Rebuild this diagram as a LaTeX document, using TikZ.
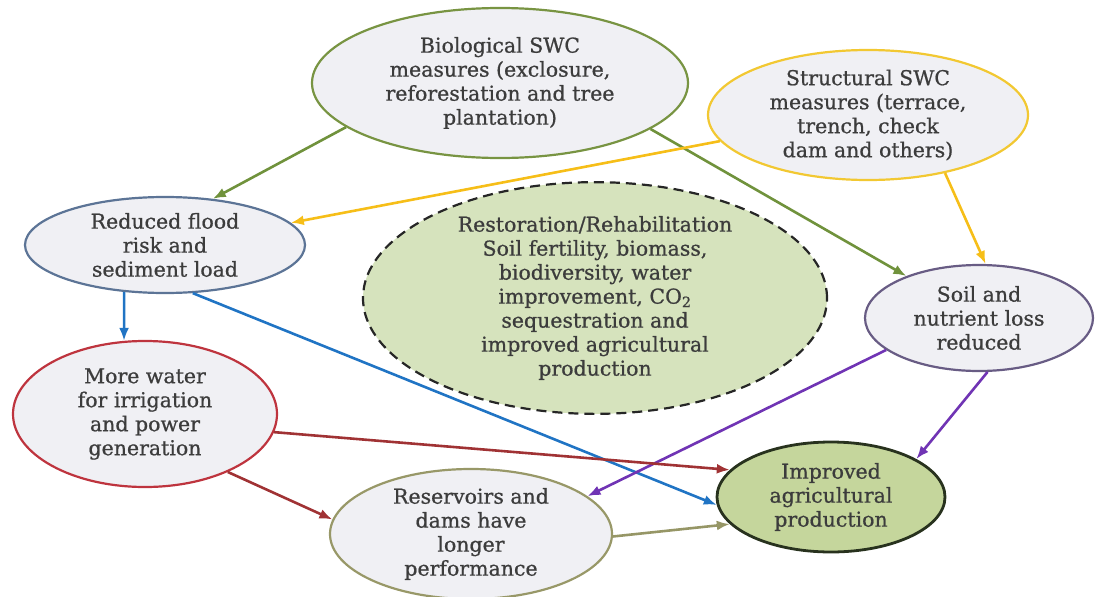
\documentclass[tikz,border=0pt]{standalone}
\usepackage{fontspec}
\setmainfont{DejaVu Serif}
\newfontfamily\bubblefont{DejaVu Serif}[FakeBold=0.8]
\usepackage{xcolor}
\usetikzlibrary{arrows.meta}
\usetikzlibrary{shapes.geometric}
\definecolor{bubblefill}{RGB}{240,240,244}
\definecolor{restfill}{RGB}{214,227,189}
\definecolor{agrifill}{RGB}{197,214,156}
\definecolor{textgray}{RGB}{60,60,60}
\definecolor{biogreen}{RGB}{120,148,66}
\definecolor{structyellow}{RGB}{242,200,50}
\definecolor{floodblue}{RGB}{92,116,150}
\definecolor{soilpurple}{RGB}{104,92,132}
\definecolor{waterred}{RGB}{190,52,62}
\definecolor{reskhaki}{RGB}{152,152,104}
\definecolor{agridark}{RGB}{40,50,30}
\definecolor{bioarrowc}{RGB}{112,146,60}
\definecolor{structarrowc}{RGB}{246,190,24}
\definecolor{floodarrowc}{RGB}{32,116,196}
\definecolor{soilarrowc}{RGB}{112,52,180}
\definecolor{waterarrowc}{RGB}{160,50,52}
\definecolor{resarrowc}{RGB}{150,150,102}
\tikzset{bubble/.style = {ellipse, draw, line width=2.2pt, fill=bubblefill,
                          inner sep=0pt, align=center, text=textgray,
                          font=\bubblefont\fontsize{20.5}{24}\selectfont}}
\tikzset{link/.style = {line width=2.6pt, -{Latex[length=13pt,width=10pt]}}}

\begin{document}
\begin{tikzpicture}[x=1pt, y=-1pt]
		\useasboundingbox (0,0) rectangle (1095,597);
		\node [style=bubble, draw=biogreen, minimum width=376pt, minimum height=150pt] (0) at (500,83) {Biological SWC\\measures (exclosure,\\reforestation and tree\\plantation)};
		\node [style=bubble, draw=structyellow, minimum width=320pt, minimum height=130pt] (1) at (868,115) {Structural SWC\\measures (terrace,\\trench, check\\dam and others)};
		\node [style=bubble, draw=floodblue, minimum width=280pt, minimum height=96pt] (2) at (165,245) {Reduced flood\\risk and\\sediment load};
		\node [style=bubble, draw=black!85, dash pattern=on 10pt off 6pt, fill=restfill, minimum width=464pt, minimum height=230pt] (3) at (595,298) {Restoration/Rehabilitation\\Soil fertility, biomass,\\biodiversity, water\\improvement, CO\textsubscript{2}\\sequestration and\\improved agricultural\\production};
		\node [style=bubble, draw=soilpurple, minimum width=228pt, minimum height=106pt] (4) at (979,318) {Soil and\\nutrient loss\\reduced};
		\node [style=bubble, draw=waterred, minimum width=264pt, minimum height=146pt] (5) at (145,414) {More water\\for irrigation\\and power\\generation};
		\node [style=bubble, draw=reskhaki, minimum width=282pt, minimum height=130pt] (6) at (471,534) {Reservoirs and\\dams have\\longer\\performance};
		\node [style=bubble, draw=agridark, line width=2.8pt, fill=agrifill, minimum width=228pt, minimum height=110pt] (7) at (831,497) {Improved\\agricultural\\production};
		\draw [style=link, bioarrowc] (0.196) to (2.44);
		\draw [style=link, bioarrowc] (0.343) to (4.150);
		\draw [style=link, structarrowc] (1.190) to (2.10);
		\draw [style=link, structarrowc] (1.323) to (4.83);
		\draw [style=link, floodarrowc] (2.229) to (5.106);
		\draw [style=link, floodarrowc] (2.300) to (7.184);
		\draw [style=link, soilarrowc] (4.199) to (6.18);
		\draw [style=link, soilarrowc] (4.279) to (7.24);
		\draw [style=link, waterarrowc] (5.352) to (7.165);
		\draw [style=link, waterarrowc] (5.325) to (6.174);
		\draw [style=link, resarrowc] (6.359) to (7.195);
	\end{tikzpicture}
\end{document}
